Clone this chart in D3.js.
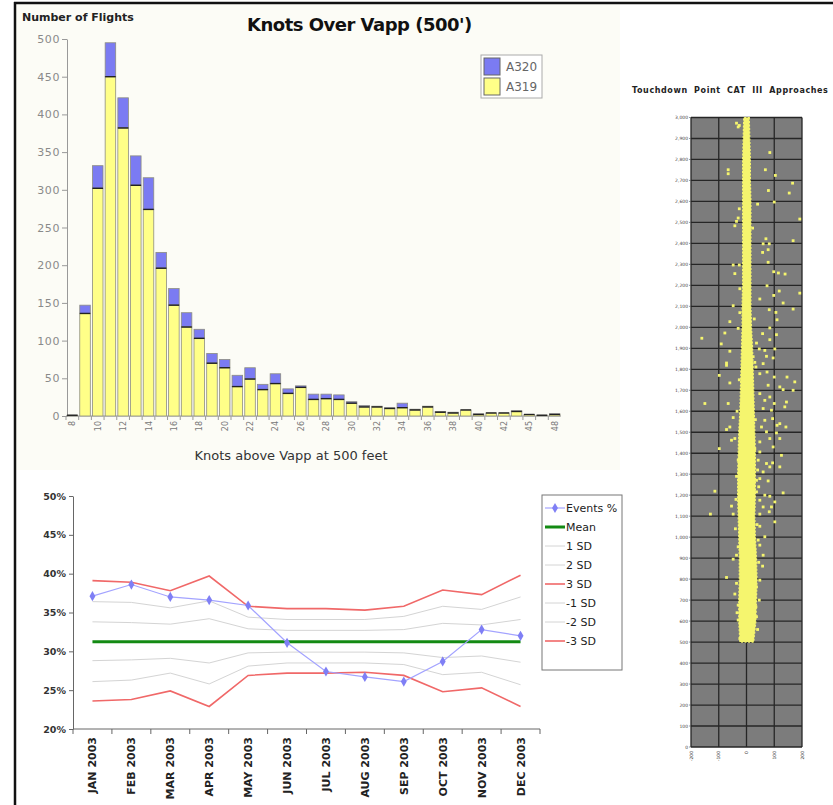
<!DOCTYPE html>
<html>
<head>
<meta charset="utf-8">
<script src="https://cdnjs.cloudflare.com/ajax/libs/d3/7.8.5/d3.min.js"></script>
<style>
  body { margin: 0; background: #fff; }
  svg { display: block; font-family: "DejaVu Sans", sans-serif; }
</style>
</head>
<body>
<div id="chart"></div>
<script>
// ---- histogram: knots above Vapp at 500 ft
var knots = ["8","9","10","11","12","13","14","15","16","17","18","19","20","21","22","23","24","25","26","27","28",
             "29","30","31","32","33","34","35","36","37","38","39","40","41","42","43","45","46","48"];
var a319 = [1,136,302,450,382,306,274,196,147,118,103,70,64,39,49,35,43,30,38,22,23,
            22,17,12,12,10,11,8,12,5,4,8,2,4,4,6,2,1,2];
var a320 = [0,11,30,45,40,39,42,21,22,19,12,13,11,15,15,7,13,6,2,7,6,
            6,2,2,1,1,6,1,1,1,1,0,1,0,0,1,0,0,1];
var flightTicks = [0,50,100,150,200,250,300,350,400,450,500];

// ---- monthly events % control chart
var months = ["JAN 2003","FEB 2003","MAR 2003","APR 2003","MAY 2003","JUN 2003",
              "JUL 2003","AUG 2003","SEP 2003","OCT 2003","NOV 2003","DEC 2003"];
var eventsPct = [37.1,38.6,37.0,36.6,35.9,31.1,27.4,26.7,26.1,28.7,32.8,32.0];
var meanPct   = 31.25;
var sd1  = [33.8,33.7,33.5,34.2,32.9,32.7,32.7,32.7,32.8,33.6,33.4,34.1];
var sd2  = [36.4,36.3,35.6,36.5,34.4,34.1,34.1,34.1,34.5,35.8,35.4,37.0];
var sd3  = [39.1,38.9,37.8,39.7,35.8,35.5,35.5,35.3,35.8,37.9,37.3,39.8];
var sdm1 = [28.8,28.9,29.1,28.5,29.8,29.9,29.9,29.9,29.8,29.2,29.4,28.6];
var sdm2 = [26.1,26.3,27.2,25.8,28.1,28.5,28.5,28.5,28.3,27.0,27.3,25.7];
var sdm3 = [23.6,23.8,24.9,22.9,26.9,27.2,27.2,27.3,26.9,24.8,25.3,22.9];
var pctTicks = [20,25,30,35,40,45,50];

// ---- touchdown point scatter (offset, distance)
var offsetTicks = [-200,-100,0,100,200];
var distTicks = d3.range(0, 3001, 100);
// dense core of the cloud: [distance, left offset, right offset]
var touchdownCore = [[3000,-10,10],[2900,-12,12],[2800,-14,14],[2700,-14,14],[2600,-14,16],[2500,-14,16],
  [2400,-14,16],[2300,-14,16],[2200,-14,16],[2100,-16,16],[2000,-16,18],[1900,-18,22],[1800,-20,24],
  [1700,-22,26],[1600,-24,28],[1500,-28,30],[1400,-30,32],[1300,-32,32],[1200,-32,32],[1100,-30,30],
  [1000,-28,32],[900,-26,36],[800,-26,38],[700,-28,36],[600,-28,34],[500,-24,26]];
var touchdownPts = [[-36,2973],[-26,2962],[-30,2955],[84,2833],[68,2751],[-66,2751],[-66,2732],[104,2724],
  [166,2687],[79,2652],[154,2640],[100,2597],[40,2587],[-26,2565],[-30,2521],[-36,2505],[-42,2484],[192,2516],
  [22,2473],[70,2422],[60,2398],[82,2398],[78,2370],[58,2357],[168,2413],[78,2310],[-48,2297],[-26,2297],
  [-42,2256],[98,2265],[115,2259],[139,2254],[74,2198],[-24,2184],[118,2173],[98,2152],[192,2163],[48,2135],
  [132,2116],[-48,2103],[82,2084],[106,2071],[168,2087],[110,2036],[-60,2027],[84,1997],[-30,1995],[-78,1973],
  [-161,1948],[58,1970],[108,1965],[84,1941],[-91,1921],[-60,1886],[36,1925],[46,1897],[66,1890],[102,1897],
  [72,1862],[96,1854],[-72,1830],[30,1833],[60,1827],
  [-72,1819],[-98,1771],[34,1811],[48,1779],[74,1787],[100,1763],[146,1763],[174,1740],[-60,1735],[78,1724],
  [120,1716],[132,1703],[168,1700],[-150,1637],[-66,1637],[48,1684],[66,1652],[84,1668],[144,1644],[138,1621],
  [100,1637],[90,1605],[60,1613],[-48,1570],[-60,1525],[-72,1513],[66,1557],[94,1565],[110,1533],[120,1541],
  [142,1525],[54,1525],[72,1502],[108,1497],[-54,1462],[-42,1470],[48,1454],[84,1470],[120,1470],[96,1430],
  [-98,1422],[48,1406],[30,1422],[126,1390],[42,1367],[72,1351],[94,1354],[84,1335],[120,1335],[-30,1367],
  [60,1311],[48,1279],[36,1271],[78,1268],[-114,1219],[132,1211],[36,1216],[66,1200],[84,1195],[48,1176],
  [-54,1148],[60,1144],[102,1168],[90,1144],[-130,1110],[-48,1110],[48,1110],[82,1121],[48,1052],[102,1073],
  [38,1060],[24,1017],[42,986],[66,1002],[48,962],[30,938],[60,914],[-36,914],[-30,954],[26,859],[58,862],
  [-48,895],[-72,808],[48,795],[36,763],[-42,729],[30,724],[-30,676],[34,668],[-30,605],[26,589],[36,621],
  [-24,517],[18,510],[-36,1290],[-38,1180],[40,1320],[44,1240],[-40,1040],[44,880],[46,700],[-36,780],
  [40,560],[-34,640],[28,2040],[-24,2070],[24,1860],[-26,1750],[32,1560],[-34,1600]];

var svg = d3.select("#chart").append("svg")
    .attr("width", 833)
    .attr("height", 805);

// page frame
svg.append("rect").attr("x", 16).attr("y", 4).attr("width", 604).attr("height", 466).attr("fill", "#fcfcf6");
svg.append("line").attr("x1", 14).attr("x2", 833).attr("y1", 3).attr("y2", 3)
    .style("stroke", "#111").style("stroke-width", 2.5);
svg.append("line").attr("x1", 15).attr("x2", 15).attr("y1", 2).attr("y2", 805)
    .style("stroke", "#111").style("stroke-width", 2.5);

// ================= histogram =================
var x1 = d3.scaleBand().domain(knots).range([66, 561]).paddingInner(0.17).paddingOuter(0.085);
var y1 = d3.scaleLinear().domain([0, 500]).range([416, 39]);

var yAx1 = svg.append("g")
    .attr("transform", "translate(67,0)")
    .call(d3.axisLeft(y1).tickValues(flightTicks).tickSize(5).tickSizeOuter(0).tickPadding(2));
yAx1.select(".domain").style("stroke", "#999");
yAx1.selectAll(".tick line").style("stroke", "#999");
yAx1.selectAll(".tick text").style("fill", "#8a8a8a").style("font-size", "11px")
    .style("letter-spacing", "0.6px").style("font-family", "DejaVu Sans");

svg.append("line").attr("x1", 66).attr("x2", 561).attr("y1", y1(0)).attr("y2", y1(0))
    .style("stroke", "#999");
var gap = x1.step() * x1.paddingInner() / 2;
svg.selectAll(".ktick").data(knots).enter().append("line")
    .attr("x1", function(d) { return x1(d) - gap; })
    .attr("x2", function(d) { return x1(d) - gap; })
    .attr("y1", y1(0)).attr("y2", y1(0) + 4)
    .style("stroke", "#999");
svg.selectAll(".klabel").data(knots).enter().append("text")
    .filter(function(d, i) { return i % 2 === 0; })
    .text(function(d) { return d; })
    .attr("transform", function(d) { return "translate(" + (x1(d) + x1.bandwidth() / 2 + 3) + "," + (y1(0) + 5) + ") rotate(-90)"; })
    .style("text-anchor", "end")
    .style("font-size", "8px")
    .style("fill", "#777");

var bars = svg.selectAll(".bar").data(knots).enter().append("g");
bars.append("rect")
    .attr("x", function(d) { return x1(d); })
    .attr("y", function(d, i) { return y1(a319[i] + a320[i]); })
    .attr("width", x1.bandwidth())
    .attr("height", function(d, i) { return y1(a319[i]) - y1(a319[i] + a320[i]); })
    .style("fill", "#7b7bf2").style("stroke", "#8d8d80").style("stroke-width", 0.8);
bars.append("rect")
    .attr("x", function(d) { return x1(d); })
    .attr("y", function(d, i) { return y1(a319[i]); })
    .attr("width", x1.bandwidth())
    .attr("height", function(d, i) { return y1(0) - y1(a319[i]); })
    .style("fill", "#ffff88").style("stroke", "#8d8d80").style("stroke-width", 0.8);
bars.append("line")
    .attr("x1", function(d) { return x1(d); })
    .attr("x2", function(d) { return x1(d) + x1.bandwidth(); })
    .attr("y1", function(d, i) { return y1(a319[i]); })
    .attr("y2", function(d, i) { return y1(a319[i]); })
    .style("stroke", "#222").style("stroke-width", 1.4);

svg.append("text").text("Number of Flights")
    .attr("x", 22).attr("y", 21)
    .style("font-size", "11px").style("font-weight", "bold").style("fill", "#222");
svg.append("text").text("Knots Over Vapp (500')")
    .attr("x", 247).attr("y", 31)
    .style("font-size", "18px").style("font-weight", "bold").style("letter-spacing", "-0.5px").style("fill", "#111");
svg.append("text").text("Knots above Vapp at 500 feet")
    .attr("x", 291).attr("y", 460)
    .style("text-anchor", "middle").style("font-size", "13px").style("fill", "#333");

// legend
var leg1 = svg.append("g").attr("transform", "translate(481,55)");
leg1.append("rect").attr("width", 61).attr("height", 43).style("fill", "#fff").style("stroke", "#aaa");
[["A320", "#7b7bf2"], ["A319", "#ffff88"]].forEach(function(d, i) {
  leg1.append("rect").attr("x", 3).attr("y", 3 + i * 20).attr("width", 16).attr("height", 17)
      .style("fill", d[1]).style("stroke", "#666");
  leg1.append("text").text(d[0]).attr("x", 25).attr("y", 16 + i * 20)
      .style("font-size", "12px").style("fill", "#666");
});

// ================= control chart =================
var x2 = d3.scaleBand().domain(months).range([73, 540]);
var y2 = d3.scaleLinear().domain([20, 50]).range([729, 496]);

var yAx2 = svg.append("g")
    .attr("transform", "translate(73,0)")
    .call(d3.axisLeft(y2).tickValues(pctTicks).tickFormat(function(d) { return d + "%"; })
      .tickSize(4).tickSizeOuter(0).tickPadding(3));
yAx2.select(".domain").style("stroke", "#666");
yAx2.selectAll(".tick line").style("stroke", "#666");
yAx2.selectAll(".tick text").style("fill", "#333").style("font-size", "9.5px").style("font-weight", "bold")
    .style("font-family", "DejaVu Sans");

svg.append("line").attr("x1", 73).attr("x2", 540).attr("y1", y2(20)).attr("y2", y2(20)).style("stroke", "#666");
svg.selectAll(".mtick").data(months.concat(["end"])).enter().append("line")
    .attr("x1", function(d) { return d === "end" ? 540 : x2(d); })
    .attr("x2", function(d) { return d === "end" ? 540 : x2(d); })
    .attr("y1", y2(20)).attr("y2", y2(20) + 5)
    .style("stroke", "#666");
svg.selectAll(".mlabel").data(months).enter().append("text")
    .text(function(d) { return d; })
    .attr("transform", function(d) { return "translate(" + (x2(d) + x2.bandwidth() / 2 + 4) + "," + (y2(20) + 8) + ") rotate(-90)"; })
    .style("text-anchor", "end").style("font-size", "11px").style("font-weight", "bold").style("fill", "#222");

var series = [
  { name: "1 SD",  values: sd1,  color: "#d4d4d4", width: 1 },
  { name: "2 SD",  values: sd2,  color: "#d4d4d4", width: 1 },
  { name: "-1 SD", values: sdm1, color: "#d4d4d4", width: 1 },
  { name: "-2 SD", values: sdm2, color: "#d4d4d4", width: 1 },
  { name: "3 SD",  values: sd3,  color: "#f06868", width: 1.6 },
  { name: "-3 SD", values: sdm3, color: "#f06868", width: 1.6 },
  { name: "Mean",  values: months.map(function() { return meanPct; }), color: "#138a13", width: 3 },
  { name: "Events %", values: eventsPct, color: "#a3a3ff", width: 1.2 }
];
var line2 = d3.line()
    .x(function(d, i) { return x2(months[i]) + x2.bandwidth() / 2; })
    .y(function(d) { return y2(d); });
svg.selectAll(".series").data(series).enter().append("path")
    .attr("d", function(s) { return line2(s.values); })
    .style("fill", "none")
    .style("stroke", function(s) { return s.color; })
    .style("stroke-width", function(s) { return s.width; });

var diamond = d3.symbol().type(d3.symbolDiamond).size(30);
svg.selectAll(".evpt").data(eventsPct).enter().append("path")
    .attr("d", diamond)
    .attr("transform", function(d, i) { return "translate(" + (x2(months[i]) + x2.bandwidth() / 2) + "," + y2(d) + ")"; })
    .style("fill", "#7f7ff5");

// legend
var legOrder = ["Events %", "Mean", "1 SD", "2 SD", "3 SD", "-1 SD", "-2 SD", "-3 SD"];
var leg2 = svg.append("g").attr("transform", "translate(542,495)");
leg2.append("rect").attr("width", 80).attr("height", 175).style("fill", "#fff").style("stroke", "#777");
legOrder.forEach(function(name, i) {
  var s = series.filter(function(d) { return d.name === name; })[0];
  var yy = 13 + i * 19;
  leg2.append("line").attr("x1", 3).attr("x2", 23).attr("y1", yy).attr("y2", yy)
      .style("stroke", s.color).style("stroke-width", s.width);
  if (name === "Events %") {
    leg2.append("path").attr("d", diamond).attr("transform", "translate(13," + yy + ")").style("fill", "#7f7ff5");
  }
  leg2.append("text").text(name).attr("x", 24).attr("y", yy + 4)
      .style("font-size", "11px").style("fill", "#222");
});

// ================= touchdown scatter =================
var x3 = d3.scaleLinear().domain([-200, 200]).range([691, 802]);
var y3 = d3.scaleLinear().domain([0, 3000]).range([747, 117.5]);

svg.append("text").text("Touchdown Point CAT III Approaches")
    .attr("x", 632).attr("y", 93)
    .style("font-size", "8px").style("font-weight", "bold").style("letter-spacing", "0.6px")
    .style("word-spacing", "3px").style("fill", "#222");

svg.append("rect").attr("x", x3(-200)).attr("y", y3(3000))
    .attr("width", x3(200) - x3(-200)).attr("height", y3(0) - y3(3000))
    .style("fill", "#7c7c7c");
svg.selectAll(".hgrid").data(distTicks).enter().append("line")
    .attr("x1", x3(-200)).attr("x2", x3(200))
    .attr("y1", function(d) { return y3(d); }).attr("y2", function(d) { return y3(d); })
    .style("stroke", "#262626").style("stroke-width", 1.3);
svg.selectAll(".vgrid").data(offsetTicks).enter().append("line")
    .attr("x1", function(d) { return x3(d); }).attr("x2", function(d) { return x3(d); })
    .attr("y1", y3(3000)).attr("y2", y3(0))
    .style("stroke", "#262626").style("stroke-width", 1.3);

var core = d3.area()
    .y(function(d) { return y3(d[0]); })
    .x0(function(d) { return x3(d[1]); })
    .x1(function(d) { return x3(d[2]); })
    .curve(d3.curveLinear);
svg.append("path").datum(touchdownCore).attr("d", core)
    .style("fill", "#f5f56e").style("stroke", "#f5f56e").style("stroke-width", 1.2)
    .style("stroke-dasharray", "2,1.5");

svg.selectAll(".tdpt").data(touchdownPts).enter().append("rect")
    .attr("x", function(d) { return x3(d[0]) - 1.4; })
    .attr("y", function(d) { return y3(d[1]) - 1.4; })
    .attr("width", 2.8).attr("height", 2.8)
    .style("fill", "#f5f56e");

svg.selectAll(".dlabel").data(distTicks).enter().append("text")
    .text(function(d) { return d3.format(",")(d); })
    .attr("x", x3(-200) - 3).attr("y", function(d) { return y3(d) + 1.5; })
    .style("text-anchor", "end").style("font-size", "4.5px").style("fill", "#444");
svg.selectAll(".dtick").data(distTicks).enter().append("line")
    .attr("x1", x3(-200) - 2).attr("x2", x3(-200))
    .attr("y1", function(d) { return y3(d); }).attr("y2", function(d) { return y3(d); })
    .style("stroke", "#555").style("stroke-width", 0.6);
svg.selectAll(".olabel").data(offsetTicks).enter().append("text")
    .text(function(d) { return d; })
    .attr("transform", function(d) { return "translate(" + (x3(d) + 1.5) + "," + (y3(0) + 4) + ") rotate(-90)"; })
    .style("text-anchor", "end").style("font-size", "4.5px").style("fill", "#444");
</script>
</body>
</html>
